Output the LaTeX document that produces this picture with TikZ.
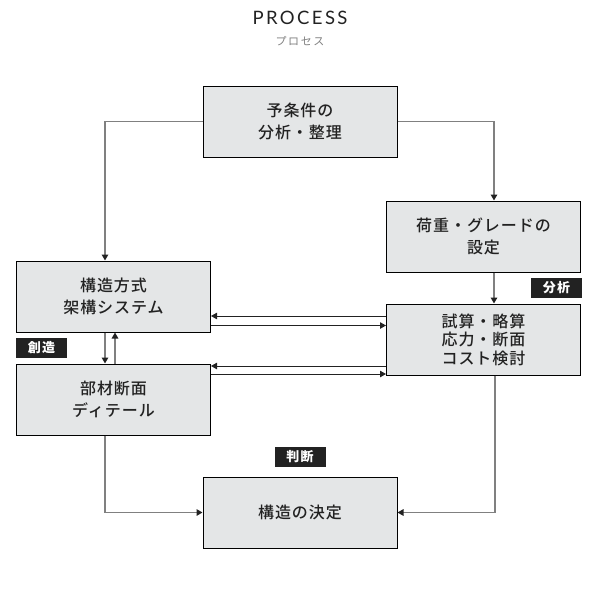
\documentclass[tikz,border=0pt]{standalone}
\usepackage{fontspec}
\newfontfamily\jp[LetterSpace=6, UprightFont={* Medium}]{Noto Sans CJK JP}
\newfontfamily\jptag[LetterSpace=10]{Noto Sans CJK JP}
\newfontfamily\jpsub[LetterSpace=15]{Noto Sans CJK JP}
\newfontfamily\ttl[LetterSpace=13]{Lato}
\usetikzlibrary{positioning}
\usetikzlibrary{arrows.meta}
\definecolor{boxfill}{HTML}{E4E6E7}
\definecolor{ink}{HTML}{222222}
\tikzstyle{block} = [draw=black, line width=1pt, fill=boxfill, rectangle, minimum height=71pt, minimum width=194pt, inner sep=0pt, align=center, text=ink, font=\jp\fontsize{16}{22.3}\selectfont]
\tikzstyle{tag} = [fill=ink, rectangle, minimum height=20pt, minimum width=51pt, inner sep=0pt, text=white, font=\jptag\bfseries\fontsize{13}{14}\selectfont]
\tikzstyle{glink} = [draw=black!50, line width=1.5pt]
\tikzstyle{klink} = [draw=ink, line width=1pt]

\begin{document}
\begin{tikzpicture}[x=1pt, y=-1pt, >={Triangle[length=6pt,width=6.5pt,color=ink]}]
    \useasboundingbox (0,0) rectangle (600,600);
    % title
    \node[font=\ttl\fontsize{18.5}{20}\selectfont, text=ink] (title) at (300,18) {PROCESS};
    \node[font=\jpsub\fontsize{11}{12}\selectfont, text=black!50] (subtitle) at (300,41) {プロセス};

    % boxes
    \node[block] (prem) at (300,121.5) {予条件の\\分析・整理};
    \node[block] (load) at (483.5,236.5) {荷重・グレードの\\設定};
    \node[block] (kozo) at (113.5,296.5) {構造方式\\架構システム};
    \node[block, font=\jp\fontsize{16}{18.5}\selectfont] (shisan) at (483.5,339.5) {試算・略算\\応力・断面\\コスト検討};
    \node[block] (buzai) at (113.5,399.5) {部材断面\\ディテール};
    \node[block] (kettei) at (300,512.5) {構造の決定};

    % tags
    \node[tag] (sozo) at (41.5,348) {創造};
    \node[tag] (bunseki) at (556.5,288) {分析};
    \node[tag] (handan) at (300,457) {判断};

    % connectors
    \draw[glink,->] (prem.west) -| (kozo.north -| 105,0);
    \draw[glink,->] (prem.east) -| (load.north -| 494,0);
    \draw[glink,->] (load.south -| 494,0) -- (shisan.north -| 494,0);

    \draw[klink,->] (shisan.west |- 0,316) -- (kozo.east |- 0,316);
    \draw[klink,->] (kozo.east |- 0,325.5) -- (shisan.west |- 0,325.5);
    \draw[klink,->] (shisan.west |- 0,366) -- (buzai.east |- 0,366);
    \draw[klink,->] (buzai.east |- 0,374) -- (shisan.west |- 0,374);

    \draw[glink,->] (kozo.south -| 105,0) -- (buzai.north -| 105,0);
    \draw[glink,->] (buzai.north -| 115,0) -- (kozo.south -| 115,0);

    \draw[glink,->] (buzai.south -| 105,0) |- (kettei.west);
    \draw[glink,->] (shisan.south -| 495,0) |- (kettei.east);
\end{tikzpicture}
\end{document}
